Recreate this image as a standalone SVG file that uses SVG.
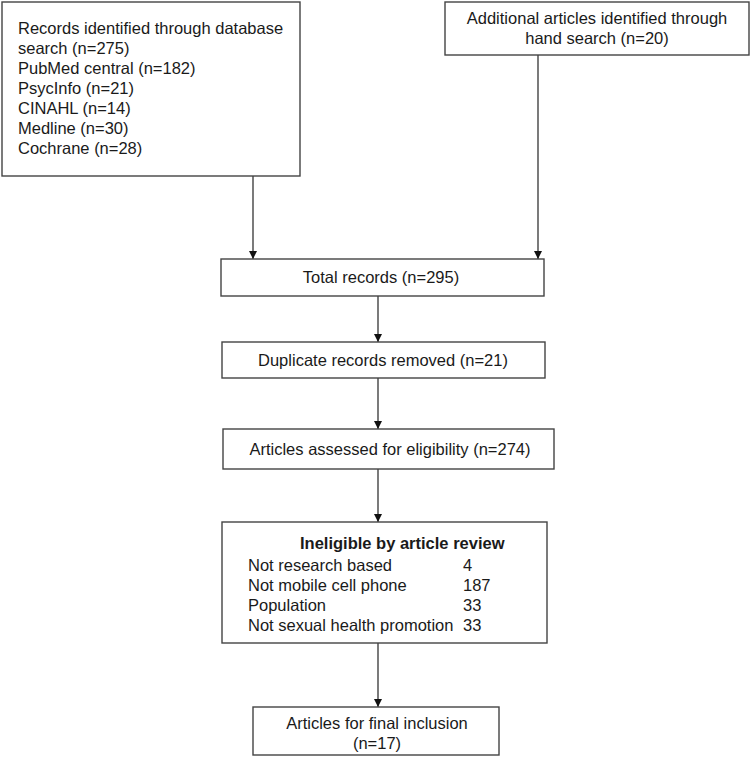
<svg xmlns="http://www.w3.org/2000/svg" width="750" height="764" viewBox="0 0 750 764">
<style>
.box{fill:#fff;stroke:#444;stroke-width:1.4}
.t{font-family:"Liberation Sans",Arial,sans-serif;font-size:16.5px;fill:#1a1a1a}
.c{text-anchor:middle}
.b{font-weight:bold}
.conn line{stroke:#333;stroke-width:1.3}
</style>
<defs>
<marker id="ah" viewBox="0 0 10 10" refX="10" refY="5" markerWidth="8" markerHeight="8" markerUnits="userSpaceOnUse" orient="auto">
<path d="M0,0 L10,5 L0,10 Z" fill="#111"/>
</marker>
</defs>
<rect width="750" height="764" fill="#fff"/>
<g class="conn">
<line x1="253" y1="176" x2="253" y2="259" marker-end="url(#ah)"/>
<line x1="538" y1="55" x2="538" y2="259" marker-end="url(#ah)"/>
<line x1="378" y1="296" x2="378" y2="342" marker-end="url(#ah)"/>
<line x1="378" y1="378" x2="378" y2="429" marker-end="url(#ah)"/>
<line x1="378" y1="469" x2="378" y2="522" marker-end="url(#ah)"/>
<line x1="378" y1="643" x2="378" y2="707" marker-end="url(#ah)"/>
</g>
<g id="db">
<rect class="box" x="2" y="2" width="298" height="174"/>
<text class="t" x="18" y="34">Records identified through database</text>
<text class="t" x="18" y="54">search (n=275)</text>
<text class="t" x="18" y="74">PubMed central (n=182)</text>
<text class="t" x="18" y="94">PsycInfo (n=21)</text>
<text class="t" x="18" y="114">CINAHL (n=14)</text>
<text class="t" x="18" y="134">Medline (n=30)</text>
<text class="t" x="18" y="154">Cochrane (n=28)</text>
</g>
<g id="hand">
<rect class="box" x="445" y="2" width="304" height="53"/>
<text class="t c" x="597" y="24">Additional articles identified through</text>
<text class="t c" x="597" y="44">hand search (n=20)</text>
</g>
<g id="total">
<rect class="box" x="221" y="259" width="323" height="37"/>
<text class="t c" x="381" y="283">Total records (n=295)</text>
</g>
<g id="dup">
<rect class="box" x="222" y="342" width="323" height="36"/>
<text class="t c" x="383" y="366">Duplicate records removed (n=21)</text>
</g>
<g id="assessed">
<rect class="box" x="223" y="429" width="331" height="40"/>
<text class="t c" x="390" y="455">Articles assessed for eligibility (n=274)</text>
</g>
<g id="ineligible">
<rect class="box" x="222" y="522" width="325" height="121"/>
<text class="t b" x="300" y="549">Ineligible by article review</text>
<text class="t" x="248" y="571">Not research based</text>
<text class="t" x="463" y="571">4</text>
<text class="t" x="248" y="591">Not mobile cell phone</text>
<text class="t" x="463" y="591">187</text>
<text class="t" x="248" y="611">Population</text>
<text class="t" x="463" y="611">33</text>
<text class="t" x="248" y="631">Not sexual health promotion</text>
<text class="t" x="463" y="631">33</text>
</g>
<g id="final">
<rect class="box" x="253" y="707" width="246" height="48"/>
<text class="t c" x="377" y="729">Articles for final inclusion</text>
<text class="t c" x="377" y="749">(n=17)</text>
</g>
</svg>
